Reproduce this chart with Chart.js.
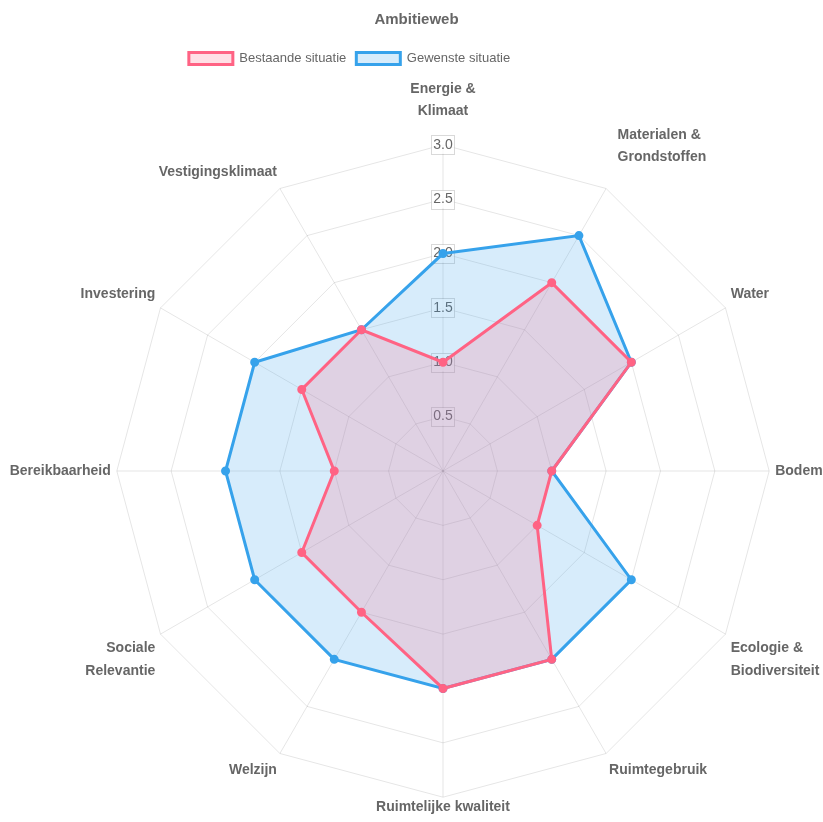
<!DOCTYPE html>
<html>
<head>
<meta charset="utf-8">
<script src="https://cdn.jsdelivr.net/npm/chart.js@4"></script>
<style>
  html, body { margin: 0; padding: 0; background: #fff; }
  #chart-container { width: 823px; height: 822px; }
</style>
</head>
<body>
<div id="chart-container"><canvas id="ambitieChart"></canvas></div>
<script>
const categories = [
    ['Energie &', 'Klimaat'],
    ['Materialen &', 'Grondstoffen'],
    'Water',
    'Bodem',
    ['Ecologie &', 'Biodiversiteit'],
    'Ruimtegebruik',
    'Ruimtelijke kwaliteit',
    'Welzijn',
    ['Sociale', 'Relevantie'],
    'Bereikbaarheid',
    'Investering',
    'Vestigingsklimaat'
];
const bestaande = [1, 2, 2, 1, 1, 2, 2, 1.5, 1.5, 1, 1.5, 1.5];
const gewenste = [2, 2.5, 2, 1, 2, 2, 2, 2, 2, 2, 2, 1.5];

// label distance from the outer ring, per category
const labelPadding = [13, 14, -3, -3, -3, -3, -10, -3, -3, -3, -3, -3];

// fit the web to the labels on both sides instead of shrinking it by the worst side
Chart.RadialLinearScale.prototype.setCenterPoint = function (left, right, top, bottom) {
    this.xCenter += Math.floor((left - right) / 2);
    this.yCenter += Math.floor((top - bottom) / 2);
    const reduce = Math.max((left + right) / 2, (top + bottom) / 2);
    this.drawingArea -= Math.min(this.drawingArea / 2, reduce);
};

// thin frame round the tick labels
const tickFrames = {
    id: 'tickFrames',
    beforeDatasetsDraw(chart) {
        const scale = chart.scales.r;
        const ctx = chart.ctx;
        ctx.save();
        ctx.font = '14px Helvetica, Arial, sans-serif';
        ctx.strokeStyle = 'rgba(0, 0, 0, 0.15)';
        ctx.lineWidth = 1;
        scale.ticks.forEach(tick => {
            if (!tick.label) return;
            const dist = scale.getDistanceFromCenterForValue(tick.value);
            const w = ctx.measureText(tick.label).width + 4;
            const h = 19;
            ctx.strokeRect(Math.round(scale.xCenter - w / 2) + 0.5, Math.round(scale.yCenter - dist - h / 2) + 0.5, Math.round(w), h);
        });
        ctx.restore();
    }
};

// legend sits left of centre in the original
const legendShift = {
    id: 'legendShift',
    afterUpdate(chart) {
        if (chart.legend && chart.legend.lineWidths) {
            chart.legend.lineWidths[0] += 134;
        }
    }
};

document.addEventListener('DOMContentLoaded', () => {
    const canvas = document.getElementById('ambitieChart');

    new Chart(canvas.getContext('2d'), {
        type: 'radar',
        data: {
            labels: categories,
            datasets: [{
                label: 'Bestaande situatie',
                data: bestaande,
                backgroundColor: 'rgba(255, 99, 132, 0.2)',
                borderColor: 'rgb(255, 99, 132)',
                pointBackgroundColor: 'rgb(255, 99, 132)',
                borderWidth: 3,
                pointRadius: 3
            }, {
                label: 'Gewenste situatie',
                data: gewenste,
                backgroundColor: 'rgba(54, 162, 235, 0.2)',
                borderColor: 'rgb(54, 162, 235)',
                pointBackgroundColor: 'rgb(54, 162, 235)',
                borderWidth: 3,
                pointRadius: 3
            }]
        },
        plugins: [tickFrames, legendShift],
        options: {
            responsive: true,
            maintainAspectRatio: false,
            animation: false,
            layout: {
                padding: { top: 11, bottom: 0, left: 10, right: 0 }
            },
            plugins: {
                title: {
                    display: true,
                    text: 'Ambitieweb',
                    font: { size: 15, weight: 'bold' },
                    padding: { top: 0, bottom: 13 }
                },
                legend: {
                    position: 'top',
                    labels: {
                        boxWidth: 44,
                        boxHeight: 12,
                        font: { size: 13 }
                    }
                }
            },
            scales: {
                r: {
                    min: 0,
                    max: 3,
                    ticks: {
                        stepSize: 0.5,
                        font: { size: 14 },
                        callback: v => v === 0 ? '' : v.toFixed(1)
                    },
                    pointLabels: {
                        padding: ctx => labelPadding[ctx.index],
                        font: { size: 14, weight: 'bold', lineHeight: 1.6 }
                    }
                }
            }
        }
    });
});
</script>
</body>
</html>
